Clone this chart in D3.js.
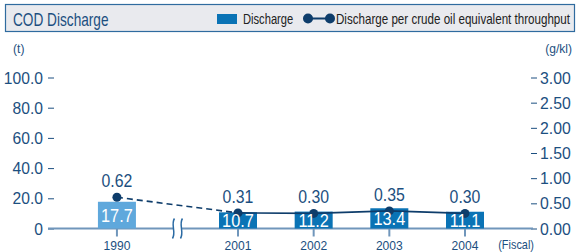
<!DOCTYPE html>
<html>
<head>
<meta charset="utf-8">
<script src="https://cdn.jsdelivr.net/npm/d3@7"></script>
<style>
  body { margin: 0; background: #fff; }
  svg text { font-family: "Liberation Sans", Arial, sans-serif; }
</style>
</head>
<body>
<div id="chart"></div>
<script>
const years = [1990, 2001, 2002, 2003, 2004]
const discharge = [17.7, 10.7, 11.2, 13.4, 11.1]
const perThroughput = [0.62, 0.31, 0.30, 0.35, 0.30]
const leftTicks = [0, 20, 40, 60, 80, 100]
const rightTicks = [0, 0.5, 1, 1.5, 2, 2.5, 3]

const width = 578, height = 252
const navy = "#1c4f80", lineCol = "#0e3d6b", axisCol = "#7096bb"
const breakSlots = 1.6

let svg = d3.select("#chart").append("svg")
    .attr("width", width)
    .attr("height", height)

// condensed text helper (no narrow font installed, so squeeze horizontally)
function txt(parent, x, y, str, size, sx, anchor, fill) {
  return parent.append("text")
      .attr("transform", `translate(${x},${y}) scale(${sx},1)`)
      .attr("text-anchor", anchor || "start")
      .attr("font-size", size)
      .attr("fill", fill || navy)
      .text(str)
}

// title box
svg.append("rect")
    .attr("x", 5.5).attr("y", 4.5).attr("width", 569).attr("height", 27)
    .attr("fill", "#e9eaee").attr("stroke", "#2f6b9f").attr("stroke-width", 1.2)
txt(svg, 13, 26, "COD Discharge", 17.5, 0.78)

// legend
svg.append("rect").attr("x", 217).attr("y", 14).attr("width", 20).attr("height", 10).attr("fill", "#0a73b5")
txt(svg, 243, 24, "Discharge", 14.5, 0.77, "start", "#222")
svg.append("line").attr("x1", 308).attr("x2", 330).attr("y1", 18.5).attr("y2", 18.5)
    .attr("stroke", lineCol).attr("stroke-width", 2)
svg.selectAll("circle.leg").data([308, 330]).join("circle")
    .attr("class", "leg").attr("cx", d => d).attr("cy", 18.5).attr("r", 5).attr("fill", lineCol)
txt(svg, 336, 24, "Discharge per crude oil equivalent throughput", 14.5, 0.8, "start", "#222")

// scales
let yL = d3.scaleLinear().domain([0, 100]).range([228.5, 77.5])
let yR = d3.scaleLinear().domain([0, 3]).range([228.5, 77.5])
let x = d3.scaleLinear().domain([2001, 2004]).range([238, 465])
const xPos = yr => yr < 2000 ? x(2001 - breakSlots) : x(yr)

// left axis
let gl = svg.append("g").attr("transform", "translate(54,0)")
    .call(d3.axisLeft(yL).tickValues(leftTicks).tickSize(6).tickFormat(""))
gl.select(".domain").remove()
gl.selectAll(".tick line").attr("stroke", navy)
leftTicks.forEach(t => txt(svg, 43, yL(t) + 6, t === 0 ? "0" : d3.format(".1f")(t), 17, 0.92, "end"))
txt(svg, 13, 53, "(t)", 13, 0.93)

// right axis
let gr = svg.append("g").attr("transform", "translate(531,0)")
    .call(d3.axisRight(yR).tickValues(rightTicks).tickSize(6).tickFormat(""))
gr.select(".domain").remove()
gr.selectAll(".tick line").attr("stroke", navy)
rightTicks.forEach(t => txt(svg, 540, yR(t) + 6, d3.format(".2f")(t), 17, 0.93, "start"))
txt(svg, 572, 53, "(g/kl)", 13, 0.93, "end")

// baseline
svg.append("line").attr("x1", 48).attr("x2", 533).attr("y1", yL(0)).attr("y2", yL(0))
    .attr("stroke", axisCol).attr("stroke-width", 2)

// x ticks and labels
let data = years.map((y, i) => ({ year: y, val: discharge[i], rate: perThroughput[i] }))
svg.selectAll("line.xt").data(data).join("line").attr("class", "xt")
    .attr("x1", d => xPos(d.year)).attr("x2", d => xPos(d.year))
    .attr("y1", yL(0)).attr("y2", yL(0) + 8).attr("stroke", axisCol).attr("stroke-width", 2)
data.forEach(d => txt(svg, xPos(d.year), 250, d.year, 13, 0.93, "middle"))
txt(svg, 534, 249, "(Fiscal)", 13, 0.84, "end")

// break mark
let bx = (xPos(1990) + x(2001)) / 2
let bk = svg.append("g").attr("transform", `translate(${bx},${yL(0)})`)
bk.append("rect").attr("x", -4).attr("y", -3).attr("width", 8).attr("height", 6).attr("fill", "#fff")
bk.selectAll("path").data([-4, 4]).join("path")
    .attr("d", d => `M${d + 1},-10 C${d - 3},-4 ${d + 3},4 ${d - 1},10`)
    .attr("fill", "none").attr("stroke", "#2a6aa3").attr("stroke-width", 1.5)

// bars
const bw = 38
svg.selectAll("rect.bar").data(data).join("rect").attr("class", "bar")
    .attr("x", d => xPos(d.year) - bw / 2).attr("width", bw)
    .attr("y", d => yL(d.val)).attr("height", d => yL(0) - yL(d.val))
    .attr("fill", d => d.year < 2000 ? "#5fa8dc" : "#0a73b5")

// line
let ln = d3.line().x(d => xPos(d.year)).y(d => yR(d.rate))
svg.append("path").datum(data.slice(0, 2)).attr("d", ln)
    .attr("fill", "none").attr("stroke", lineCol).attr("stroke-width", 1.6).attr("stroke-dasharray", "6,4")
svg.append("path").datum(data.slice(1)).attr("d", ln)
    .attr("fill", "none").attr("stroke", lineCol).attr("stroke-width", 1.6)
svg.selectAll("circle.pt").data(data).join("circle").attr("class", "pt")
    .attr("cx", d => xPos(d.year)).attr("cy", d => yR(d.rate)).attr("r", 4.5).attr("fill", lineCol)
data.forEach(d => txt(svg, xPos(d.year), yR(d.rate) - 10, d3.format(".2f")(d.rate), 18, 0.88, "middle"))

// bar values on top so the dots don't hide them
data.forEach(d => txt(svg, xPos(d.year), (yL(d.val) + yL(0)) / 2 + 7, d3.format(".1f")(d.val), 19, 0.86, "middle", "#fff"))
</script>
</body>
</html>
